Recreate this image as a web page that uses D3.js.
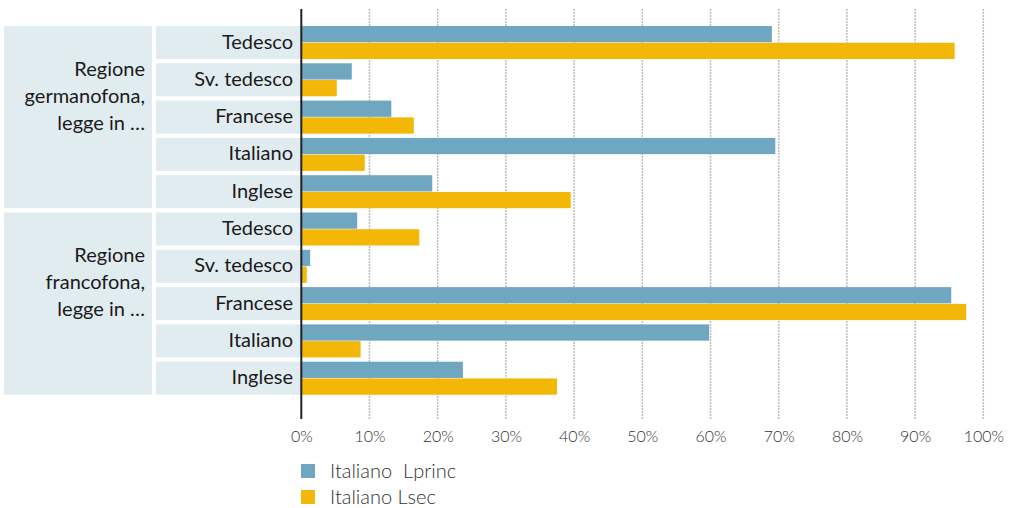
<!DOCTYPE html>
<html>
<head>
<meta charset="utf-8">
<script src="https://d3js.org/d3.v7.min.js"></script>
<style>
  body { margin: 0; background: #fff; }
  svg text { font-family: Lato, "Open Sans", sans-serif; }
</style>
</head>
<body>
<svg id="chart" width="1012" height="508"></svg>
<script>
// data
const groups = ["Regione germanofona, legge in …", "Regione francofona, legge in …"];
const groupLines = [["Regione", "germanofona,", "legge in …"], ["Regione", "francofona,", "legge in …"]];
const categories = ["Tedesco", "Sv. tedesco", "Francese", "Italiano", "Inglese"];
const seriesNames = ["Italiano  Lprinc", "Italiano Lsec"];
const lprinc = [[69.0, 7.4, 13.2, 69.5, 19.2], [8.2, 1.3, 95.3, 59.8, 23.7]];
const lsec = [[95.8, 5.2, 16.5, 9.3, 39.5], [17.3, 0.8, 97.5, 8.7, 37.5]];
const ticks = [0, 10, 20, 30, 40, 50, 60, 70, 80, 90, 100];

const colors = ["#6fa7c1", "#f2b707"];
const boxFill = "#e1ecf0";

// flat rows
const rows = [];
groups.forEach((g, gi) => categories.forEach((c, ci) => {
  rows.push({ key: gi + "-" + ci, group: gi, cat: c, vals: [lprinc[gi][ci], lsec[gi][ci]] });
}));

const svg = d3.select("#chart");
const x = d3.scaleLinear().domain([0, 100]).range([301.3, 983.3]);
const y = d3.scaleBand().domain(rows.map(r => r.key)).range([26, 394.7]).paddingInner(0.115).paddingOuter(0);
const ys = d3.scaleBand().domain([0, 1]).range([0, y.bandwidth()]).paddingInner(0.03);

const lineTop = 9, lineBottom = 419;

// gridlines
svg.append("g").selectAll("line").data(ticks.slice(1)).join("line")
  .attr("x1", d => x(d)).attr("x2", d => x(d))
  .attr("y1", lineTop).attr("y2", lineBottom)
  .attr("stroke", "#bdbdbd").attr("stroke-width", 1.5)
  .attr("stroke-dasharray", "2,1");

// group boxes
const gb = svg.append("g");
groups.forEach((g, gi) => {
  const first = y(gi + "-0"), last = y(gi + "-" + (categories.length - 1)) + y.bandwidth();
  gb.append("rect").attr("x", 4).attr("y", first).attr("width", 148).attr("height", last - first)
    .attr("fill", boxFill);
  const t = gb.append("text").attr("text-anchor", "end").attr("font-size", 20).attr("fill", "#1a1a1a");
  groupLines[gi].forEach((line, li) => {
    t.append("tspan").attr("x", 145).attr("y", first + 50 + li * 27).text(line);
  });
});

// category boxes and labels
const cg = svg.append("g").selectAll("g").data(rows).join("g")
  .attr("transform", d => `translate(0,${y(d.key)})`);
cg.append("rect").attr("x", 156).attr("y", 0).attr("width", 145).attr("height", y.bandwidth())
  .attr("fill", boxFill);
cg.append("text").attr("x", 293).attr("y", y.bandwidth() / 2 - 1).attr("dy", "0.35em")
  .attr("text-anchor", "end").attr("font-size", 20).attr("fill", "#1a1a1a")
  .text(d => d.cat);

// bars
cg.selectAll("rect.bar").data(d => d.vals).join("rect").attr("class", "bar")
  .attr("x", x(0)).attr("y", (d, i) => ys(i))
  .attr("width", d => x(d) - x(0)).attr("height", ys.bandwidth())
  .attr("fill", (d, i) => colors[i]);

// axis line
svg.append("line").attr("x1", x(0)).attr("x2", x(0)).attr("y1", lineTop).attr("y2", lineBottom)
  .attr("stroke", "#222").attr("stroke-width", 2);

// tick labels
const xAxis = d3.axisBottom(x).tickValues(ticks).tickFormat(d => d + "%").tickSize(0).tickPadding(0);
const ax = svg.append("g").attr("transform", "translate(0,431)").call(xAxis);
ax.select(".domain").remove();
ax.selectAll("text").attr("font-size", 16).attr("font-weight", 300).attr("fill", "#333")
  .attr("font-family", "Lato, sans-serif");

// legend
const lg = svg.append("g").selectAll("g").data(seriesNames).join("g")
  .attr("transform", (d, i) => `translate(301,${464 + i * 26})`);
lg.append("rect").attr("width", 14).attr("height", 14).attr("fill", (d, i) => colors[i]);
lg.append("text").attr("x", 29).attr("y", 14).attr("font-size", 20).attr("font-weight", 300)
  .attr("fill", "#333").attr("xml:space", "preserve").style("white-space", "pre").text(d => d);
</script>
</body>
</html>
